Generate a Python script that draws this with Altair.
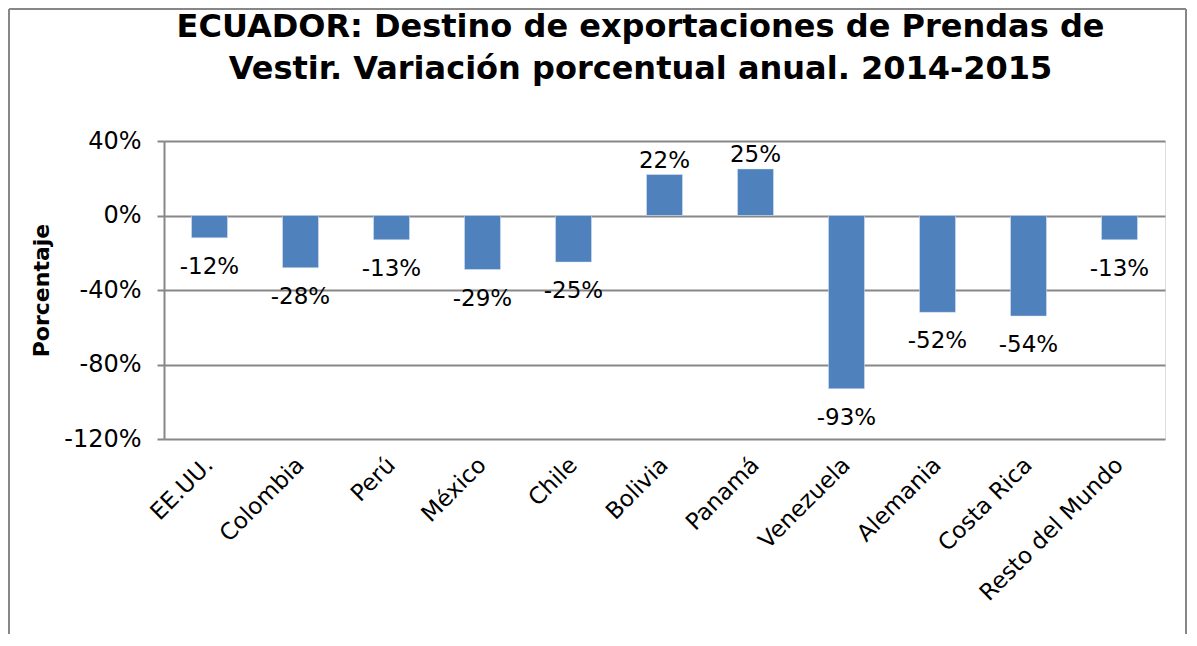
import altair as alt
import pandas as pd

categorias = ["EE.UU.", "Colombia", "Perú", "México", "Chile", "Bolivia",
              "Panamá", "Venezuela", "Alemania", "Costa Rica", "Resto del Mundo"]
variacion = [-12, -28, -13, -29, -25, 22, 25, -93, -52, -54, -13]
y_ticks = [-120, -80, -40, 0, 40]

df = pd.DataFrame({"pais": categorias, "v": variacion})
df["label"] = [f"{v}%" for v in variacion]

FONT = "DejaVu Sans"
GRAY = "#878787"
x_enc = alt.X("pais:N", sort=categorias, title=None,
              scale=alt.Scale(paddingInner=0.6, paddingOuter=0.3),
              axis=alt.Axis(labelAngle=-45, labelAlign="right", labelBaseline="middle",
                            labelFontSize=23, labelFont=FONT, labelColor="black",
                            labelPadding=22, labelLimit=0, ticks=False, domain=False, grid=False))
y_enc = alt.Y("v:Q", title="Porcentaje",
              scale=alt.Scale(domain=[-120, 40], nice=False, zero=False),
              axis=alt.Axis(values=y_ticks, labelExpr="datum.value + '%'",
                            labelFontSize=24, labelFont=FONT, labelColor="black",
                            labelPadding=16, tickSize=7, tickColor=GRAY, tickWidth=2,
                            domainColor=GRAY, domainWidth=2,
                            gridColor=GRAY, gridWidth=2,
                            titleFont=FONT, titleFontSize=22, titleFontWeight="bold",
                            titleColor="black", titlePadding=10))

base = alt.Chart(df)

bars = base.mark_bar(size=36, color="#4F81BD", stroke="#DCE6F2", strokeWidth=0.5).encode(x=x_enc, y=y_enc)

neg_labels = base.transform_filter("datum.v < 0").mark_text(
    baseline="top", dy=18, fontSize=23, font=FONT, color="black"
).encode(x=alt.X("pais:N", sort=categorias), y="v:Q", text="label:N")

pos_labels = base.transform_filter("datum.v >= 0").mark_text(
    baseline="alphabetic", dy=-7, fontSize=23, font=FONT, color="black"
).encode(x=alt.X("pais:N", sort=categorias), y="v:Q", text="label:N")

one = pd.DataFrame({"a": [0]})
frame_left = alt.Chart(one).mark_rule(color=GRAY, strokeWidth=2, clip=False).encode(
    x=alt.value(-155), y=alt.value(-132), y2=alt.value(500))
frame_right = alt.Chart(one).mark_rule(color=GRAY, strokeWidth=2, clip=False).encode(
    x=alt.value(1022), y=alt.value(-132), y2=alt.value(500))
frame_top = alt.Chart(one).mark_rule(color=GRAY, strokeWidth=2, clip=False).encode(
    x=alt.value(-155), x2=alt.value(1022), y=alt.value(-132))

chart = alt.layer(frame_left, frame_right, frame_top, bars, neg_labels, pos_labels).properties(
    width=1001, height=298,
    autosize=alt.AutoSizeParams(type="none"),
    padding={"left": 156, "top": 133, "right": 24, "bottom": 195},
    title=alt.TitleParams(
        text=["ECUADOR: Destino de exportaciones de Prendas de",
              "Vestir. Variación porcentual anual.  2014-2015"],
        font=FONT, fontSize=32, fontWeight="bold", color="black",
        lineHeight=42, anchor="middle", dx=-24, offset=-78)
).configure_view(stroke=None).configure(background="white")

chart.save("out.html", embed_options={"renderer": "svg", "actions": False})
